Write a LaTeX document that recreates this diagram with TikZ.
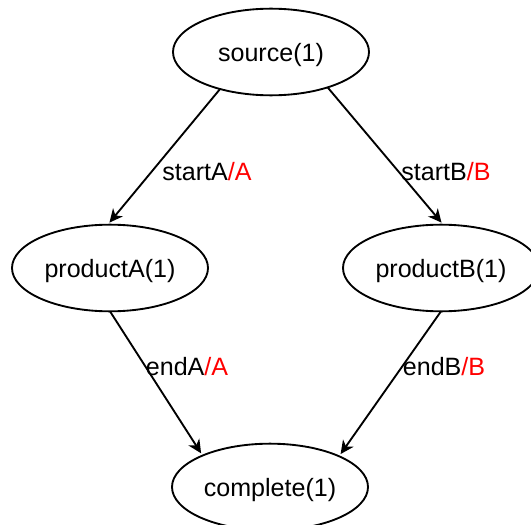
\documentclass[tikz,border=0pt]{standalone}
\usepackage{fontspec}
\setmainfont{Liberation Sans}
\usetikzlibrary{shapes.geometric,arrows.meta}
\definecolor{labred}{RGB}{255,0,0}
\begin{document}
\begin{tikzpicture}[x=0.75pt,y=-0.75pt,
  state/.style={ellipse,draw,line width=1.4pt,minimum width=147pt,minimum height=65pt,
    inner sep=0pt,outer sep=0pt,text depth=0pt,font=\fontsize{18.8}{22}\selectfont},
  trans/.style={draw,line width=1.4pt,-{Stealth[length=10pt,width=9.5pt,inset=3pt]},shorten >=2pt},
  elabel/.style={inner sep=0pt,font=\fontsize{18.8}{22}\selectfont}]
\useasboundingbox (0,0) rectangle (531,524);

% states
\node[state] (src) at (271,52) {source(1)};
\node[state] (pa) at (110,268) {productA(1)};
\node[state] (pb) at (441,268) {productB(1)};
\node[state] (cm) at (270,487) {complete(1)};

% transitions
\draw[trans] (src.216.7) -- (pa.93.6);
\draw[trans] (src.328) -- (pb.87.6);
\draw[trans] (pa.south) -- (cm.155.3);
\draw[trans] (pb.south) -- (cm.24.4);

% transition labels: event name, then the guard in red
\node[elabel] (la) at (207,172) {startA\textcolor{labred}{/A}};
\node[elabel] (lb) at (446,172) {startB\textcolor{labred}{/B}};
\node[elabel] (lc) at (187,367) {endA\textcolor{labred}{/A}};
\node[elabel] (ld) at (444,367) {endB\textcolor{labred}{/B}};
\end{tikzpicture}
\end{document}
